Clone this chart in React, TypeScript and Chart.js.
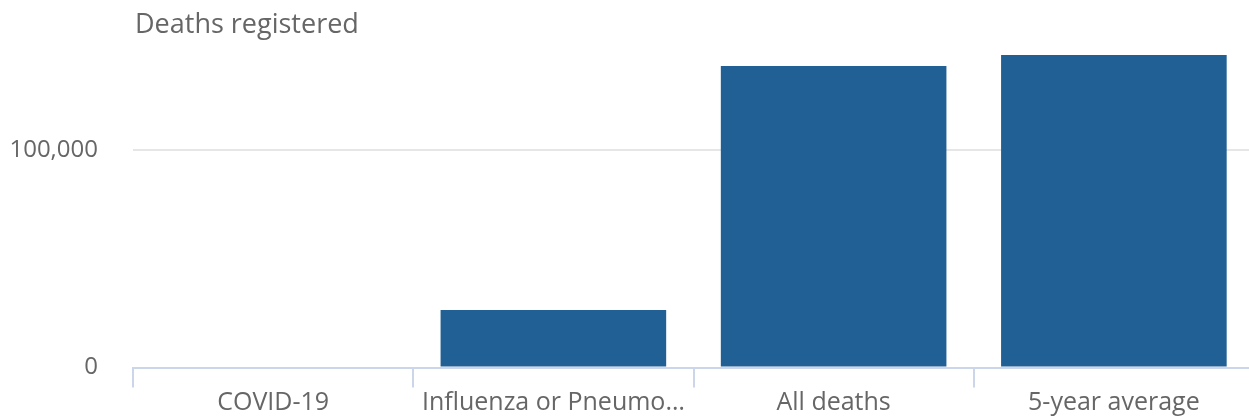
import React, { useEffect, useRef } from "react";
import { Chart, registerables } from "chart.js";

Chart.register(...registerables);

const categories: string[] = ["COVID-19", "Influenza or Pneumonia", "All deaths", "5-year average"];
const deaths: number[] = [0, 26400, 138700, 143700];
const yTickValues: number[] = [0, 100000];
const axisTitle = "Deaths registered";

const FONT = "'Open Sans', sans-serif";

const titlePlugin = {
  id: "yTitleTop",
  afterDraw(chart: any) {
    const ctx = chart.ctx;
    ctx.save();
    ctx.font = `27px ${FONT}`;
    ctx.fillStyle = "#666666";
    ctx.textAlign = "left";
    ctx.textBaseline = "alphabetic";
    ctx.fillText(axisTitle, chart.chartArea.left + 2, 33);
    ctx.restore();
  },
};

export default function App() {
  const ref = useRef<HTMLCanvasElement | null>(null);
  useEffect(() => {
    document.body.style.margin = "0";
    const canvas = ref.current!;
    const chart = new Chart(canvas, {
      type: "bar",
      data: {
        labels: categories,
        datasets: [
          {
            data: deaths,
            backgroundColor: "#206095",
            borderWidth: 0,
            categoryPercentage: 1,
            barPercentage: 0.805,
          },
        ],
      },
      options: {
        animation: false,
        responsive: false,
        maintainAspectRatio: false,
        layout: { padding: { top: 41.4, left: 10, right: 0, bottom: 1.5 } },
        plugins: { legend: { display: false }, tooltip: { enabled: false } },
        scales: {
          x: {
            offset: true,
            grid: {
              offset: true,
              drawOnChartArea: false,
              drawTicks: true,
              tickLength: 20,
              color: "#ccd6eb",
              lineWidth: 2,
            },
            border: { display: true, color: "#ccd6eb", width: 2 },
            ticks: {
              color: "#666666",
              font: { family: FONT, size: 25 },
              padding: 0,
              maxRotation: 0,
              autoSkip: false,
              callback: function (this: any, v: any) {
                const s = String(this.getLabelForValue(v));
                return s.length > 19 ? s.slice(0, 19) + "…" : s;
              },
            },
          },
          y: {
            min: 0,
            max: 150000,
            afterBuildTicks: (axis: any) => {
              axis.ticks = yTickValues.map((v) => ({ value: v }));
            },
            afterFit: (axis: any) => {
              axis.width = 123;
              axis.paddingTop = 0;
              axis.paddingBottom = 0;
            },
            grid: { color: "#e6e6e6", lineWidth: 2, drawTicks: false },
            border: { display: false },
            ticks: {
              color: "#666666",
              font: { family: FONT, size: 24 },
              padding: 35,
              callback: (v: any) => Number(v).toLocaleString("en-US"),
            },
          },
        },
      },
      plugins: [titlePlugin],
    });
    return () => chart.destroy();
  }, []);
  return (
    <div style={{ width: 1249, height: 419, overflow: "hidden", position: "relative" }}>
      <canvas ref={ref} width={1254} height={419} style={{ display: "block" }} />
    </div>
  );
}
